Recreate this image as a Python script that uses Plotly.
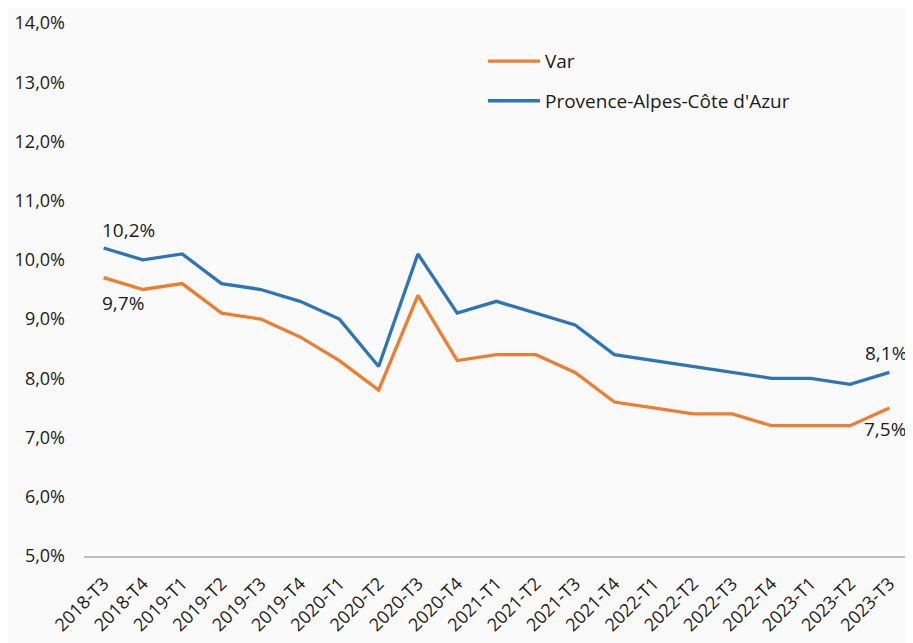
import plotly.graph_objects as go

# trimestres
trimestres = ["2018-T3", "2018-T4", "2019-T1", "2019-T2", "2019-T3", "2019-T4",
              "2020-T1", "2020-T2", "2020-T3", "2020-T4", "2021-T1", "2021-T2",
              "2021-T3", "2021-T4", "2022-T1", "2022-T2", "2022-T3", "2022-T4",
              "2023-T1", "2023-T2", "2023-T3"]

# taux de chomage (%)
var = [9.7, 9.5, 9.6, 9.1, 9.0, 8.7, 8.3, 7.8, 9.4, 8.3, 8.4, 8.4,
       8.1, 7.6, 7.5, 7.4, 7.4, 7.2, 7.2, 7.2, 7.5]
paca = [10.2, 10.0, 10.1, 9.6, 9.5, 9.3, 9.0, 8.2, 10.1, 9.1, 9.3, 9.1,
        8.9, 8.4, 8.3, 8.2, 8.1, 8.0, 8.0, 7.9, 8.1]

y_ticks = [5, 6, 7, 8, 9, 10, 11, 12, 13, 14]
y_labels = [f"{v:.1f}%".replace(".", ",") for v in y_ticks]

def fr(v):
    return f"{v:.1f}%".replace(".", ",")

font_name = "Open Sans"
txt_color = "#1a1a1a"

fig = go.Figure()
fig.add_trace(go.Scatter(x=trimestres, y=var, name="Var", mode="lines",
                         line=dict(color="#ED7D31", width=3.3), legendgroup="a"))
fig.add_trace(go.Scatter(x=trimestres, y=paca, name="Provence-Alpes-Côte d'Azur", mode="lines",
                         line=dict(color="#2E75B6", width=3.3), legendgroup="b"))

# etiquettes premier / dernier point
fig.add_annotation(x=trimestres[0], y=paca[0], text=fr(paca[0]), showarrow=False,
                   xanchor="left", yanchor="bottom", xshift=-4, yshift=3)
fig.add_annotation(x=trimestres[0], y=var[0], text=fr(var[0]), showarrow=False,
                   xanchor="left", yanchor="top", xshift=-4, yshift=-10)
fig.add_annotation(x=trimestres[-1], y=paca[-1], text=fr(paca[-1]), showarrow=False,
                   xanchor="right", yanchor="bottom", xshift=20, yshift=4)
fig.add_annotation(x=trimestres[-1], y=var[-1], text=fr(var[-1]), showarrow=False,
                   xanchor="right", yanchor="top", xshift=19, yshift=-6)

# la page ajoute une marge de 8px autour de la figure
fig.update_layout(
    width=905, height=635,
    paper_bgcolor="#fafafa", plot_bgcolor="#fafafa",
    margin=dict(l=76, r=4, t=15, b=87),
    font=dict(family=font_name, size=19, color=txt_color),
    showlegend=True,
    legend=dict(x=0.4836, y=0.964, xanchor="left", yanchor="top",
                bgcolor="rgba(0,0,0,0)", font=dict(size=19),
                tracegroupgap=12, itemwidth=52),
    hovermode=False,
)
fig.update_xaxes(type="category", range=[-0.5, len(trimestres) - 0.5],
                 tickangle=-45, showgrid=False, showline=True,
                 linecolor="#bfbfbf", linewidth=2, ticks="",
                 ticklabelstandoff=8,
                 tickfont=dict(size=18), zeroline=False, automargin=False)
fig.update_yaxes(range=[5, 14], tickvals=y_ticks, ticktext=y_labels,
                 showgrid=False, showline=False, zeroline=False, ticks="",
                 ticklabelstandoff=18, ticklabeloverflow="allow",
                 tickfont=dict(size=18), automargin=False)

fig.write_html("out.html")
